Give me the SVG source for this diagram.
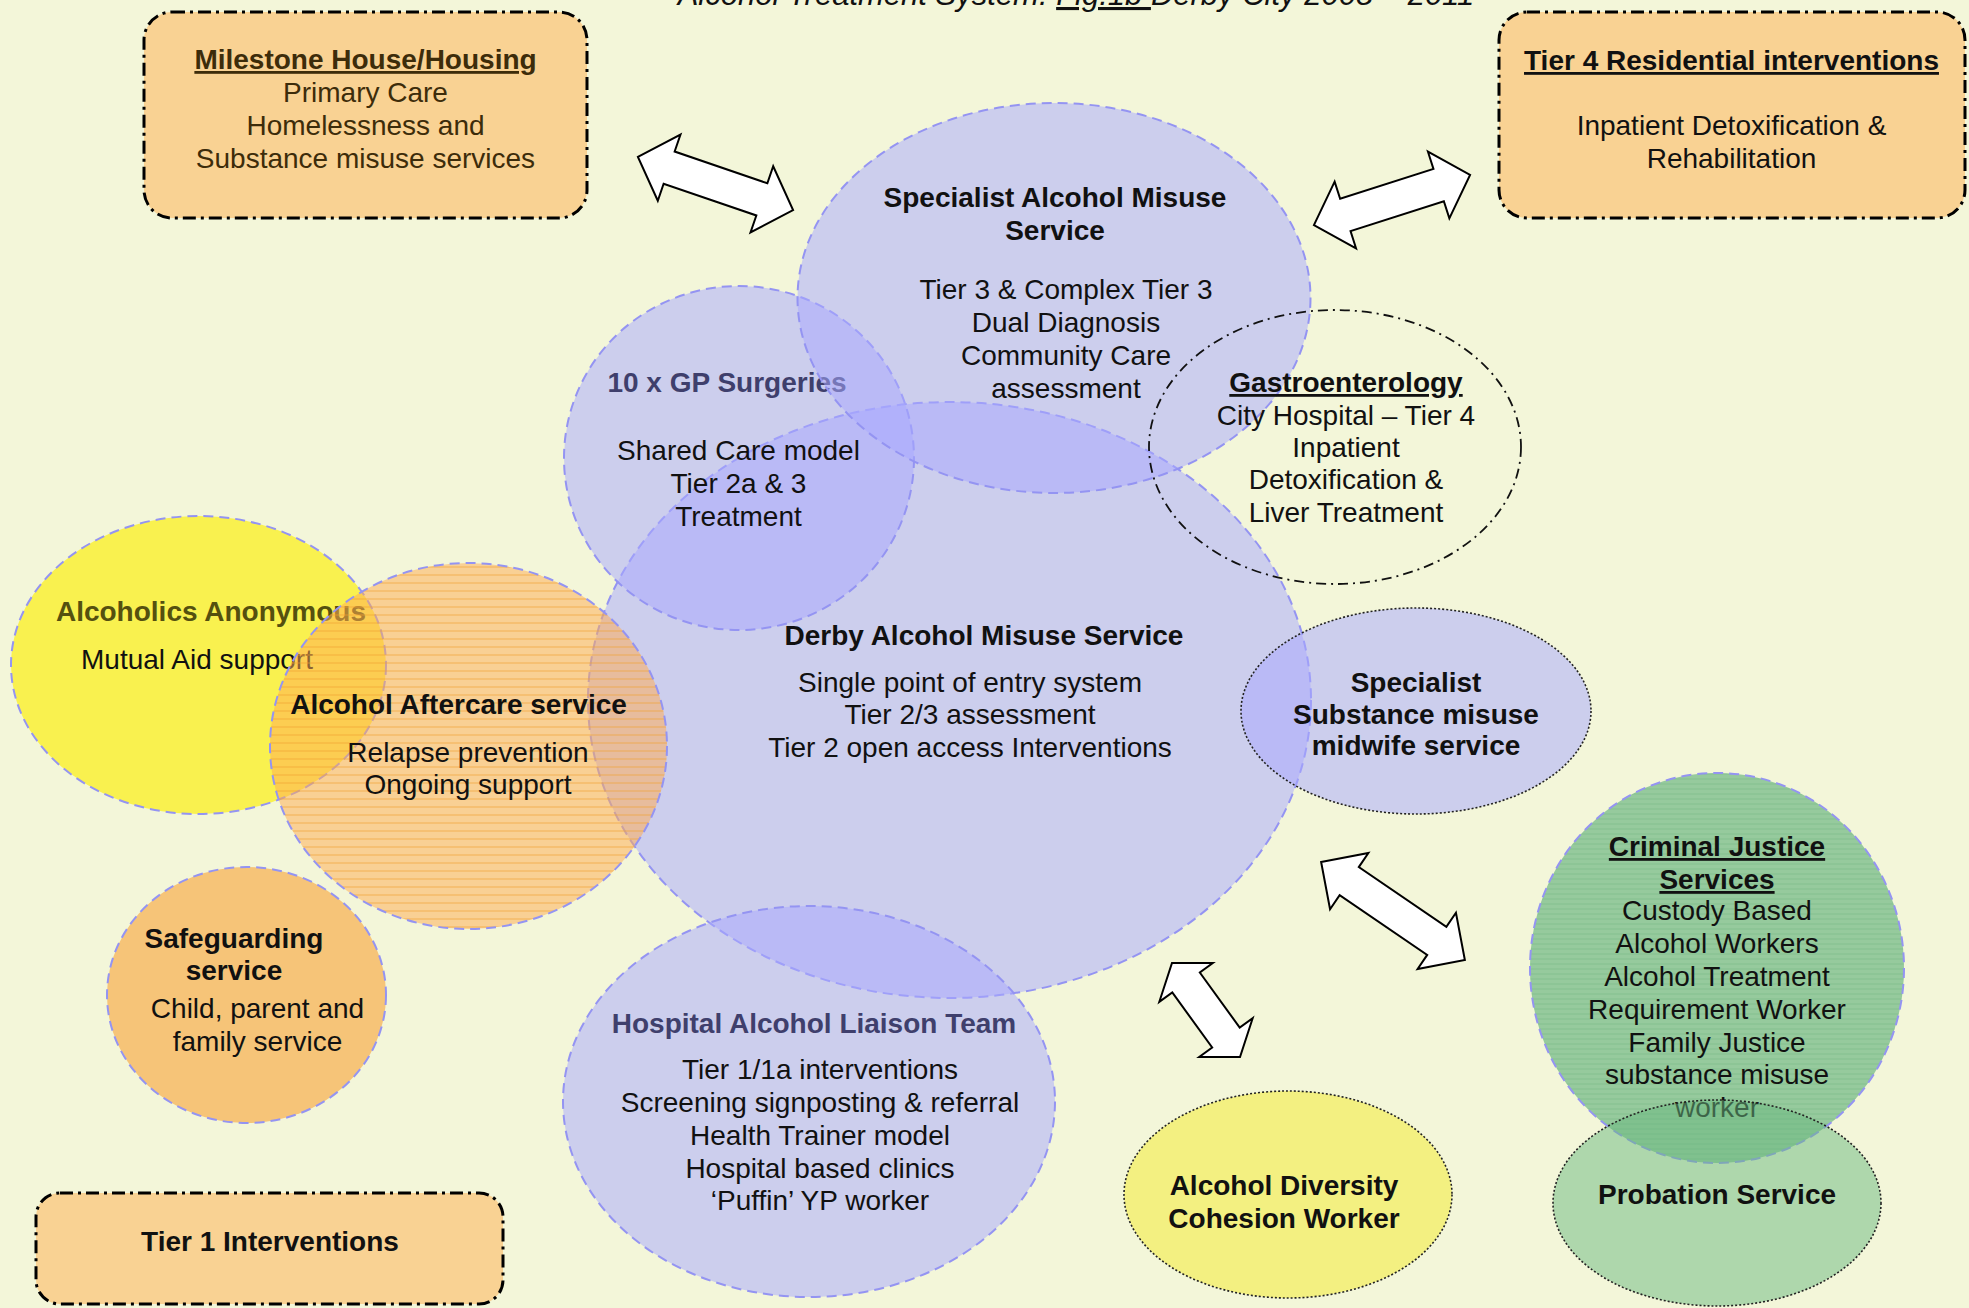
<svg xmlns="http://www.w3.org/2000/svg" width="1969" height="1308" viewBox="0 0 1969 1308">
  <defs>
    <style>
      .t { font-family: "Liberation Sans", Arial, sans-serif; font-size: 28px; text-anchor: middle; fill: #111; }
      .b { font-weight: bold; }
      .u { text-decoration: underline; }
      .brown { fill: #3d2c0a; }
      .slate { fill: #3f3f6c; }
      .olive { fill: #55500f; }
      .box { fill: #f9d293; stroke: #000; stroke-width: 3; stroke-dasharray: 13 5 3 5; }
      .lav { fill: #a8a8ff; fill-opacity: 0.52; stroke: #9494f2; stroke-width: 2; stroke-dasharray: 10 6; }
      .lavdot { fill: #a8a8ff; fill-opacity: 0.52; stroke: #222; stroke-width: 1.6; stroke-dasharray: 2 2; }
      .dashdot { fill: none; stroke: #111; stroke-width: 1.8; stroke-dasharray: 10 5 2 5; }
      .blue-dash { stroke: #9494f2; stroke-width: 2; stroke-dasharray: 10 6; }
      .dots { stroke: #222; stroke-width: 1.6; stroke-dasharray: 2 2; }
      .arrow { fill: #fff; stroke: #000; stroke-width: 2; stroke-linejoin: miter; }
    </style>
    <pattern id="hatch" width="8" height="8" patternUnits="userSpaceOnUse">
      <line x1="0" y1="7" x2="8" y2="7" stroke="#f0a030" stroke-width="1.2" stroke-opacity="0.55"/>
    </pattern>
    <pattern id="greenHatch" width="8" height="5" patternUnits="userSpaceOnUse">
      <line x1="0" y1="4" x2="8" y2="4" stroke="#4e9a66" stroke-width="1" stroke-opacity="0.25"/>
    </pattern>
    <path id="arrowLong" d="M -82,0 L -49,-35 L -49,-17 L 49,-17 L 49,-35 L 82,0 L 49,35 L 49,17 L -49,17 L -49,35 Z"/>
  </defs>

  <!-- page background -->
  <rect x="0" y="0" width="1969" height="1308" fill="#f3f6d9"/>

  <!-- heading, partly cut by the top edge -->
  <text class="t" x="1076" y="5" style="font-size:31px;font-style:italic">Alcohol Treatment System: <tspan class="u">Fig.1b </tspan>Derby City 2008 – 2011</text>

  <!-- rounded boxes -->
  <g id="milestone-house">
    <rect class="box" x="144" y="12" width="443" height="206" rx="28"/>
    <text class="t b u brown" x="365.5" y="69">Milestone House/Housing</text>
    <text class="t brown" x="365.5" y="102">Primary Care</text>
    <text class="t brown" x="365.5" y="135">Homelessness and</text>
    <text class="t brown" x="365.5" y="168">Substance misuse services</text>
  </g>

  <g id="tier4-residential">
    <rect class="box" x="1499" y="12" width="466" height="206" rx="28"/>
    <text class="t b u" x="1731.5" y="70">Tier 4 Residential interventions</text>
    <text class="t" x="1731.5" y="135">Inpatient Detoxification &amp;</text>
    <text class="t" x="1731.5" y="168">Rehabilitation</text>
  </g>

  <g id="tier1-interventions">
    <rect class="box" x="36" y="1193" width="467" height="111" rx="24"/>
    <text class="t b" x="270" y="1251">Tier 1 Interventions</text>
  </g>

  <!-- central service -->
  <g id="derby-alcohol-misuse-service">
    <ellipse class="lav" cx="949.5" cy="700" rx="361.5" ry="298"/>
    <text class="t b" x="984" y="645">Derby Alcohol Misuse Service</text>
    <text class="t" x="970" y="692">Single point of entry system</text>
    <text class="t" x="970" y="724">Tier 2/3 assessment</text>
    <text class="t" x="970" y="757">Tier 2 open access Interventions</text>
  </g>

  <g id="gp-surgeries">
    <ellipse class="lav" cx="739" cy="458" rx="175" ry="172"/>
    <text class="t b slate" x="727" y="392">10 x GP Surgeries</text>
    <text class="t" x="738.5" y="460">Shared Care model</text>
    <text class="t" x="738.5" y="493">Tier 2a &amp; 3</text>
    <text class="t" x="738.5" y="526">Treatment</text>
  </g>

  <g id="specialist-alcohol-misuse-service">
    <ellipse class="lav" cx="1054" cy="298" rx="256.5" ry="195"/>
    <text class="t b" x="1055" y="207">Specialist Alcohol Misuse</text>
    <text class="t b" x="1055" y="240">Service</text>
    <text class="t" x="1066" y="299">Tier 3 &amp; Complex Tier 3</text>
    <text class="t" x="1066" y="332">Dual Diagnosis</text>
    <text class="t" x="1066" y="365">Community Care</text>
    <text class="t" x="1066" y="398">assessment</text>
  </g>

  <g id="gastroenterology">
    <ellipse class="dashdot" cx="1335" cy="447" rx="186" ry="137"/>
    <text class="t b u" x="1346" y="392">Gastroenterology</text>
    <text class="t" x="1346" y="425">City Hospital – Tier 4</text>
    <text class="t" x="1346" y="457">Inpatient</text>
    <text class="t" x="1346" y="489">Detoxification &amp;</text>
    <text class="t" x="1346" y="522">Liver Treatment</text>
  </g>

  <g id="midwife-service">
    <ellipse class="lavdot" cx="1416" cy="711" rx="175" ry="103"/>
    <text class="t b" x="1416" y="692">Specialist</text>
    <text class="t b" x="1416" y="724">Substance misuse</text>
    <text class="t b" x="1416" y="755">midwife service</text>
  </g>

  <g id="hospital-alcohol-liaison-team">
    <ellipse class="lav" cx="809" cy="1101.5" rx="246" ry="195.5"/>
    <text class="t b slate" x="814" y="1033">Hospital Alcohol Liaison Team</text>
    <text class="t" x="820" y="1079">Tier 1/1a interventions</text>
    <text class="t" x="820" y="1112">Screening signposting &amp; referral</text>
    <text class="t" x="820" y="1145">Health Trainer model</text>
    <text class="t" x="820" y="1178">Hospital based clinics</text>
    <text class="t" x="820" y="1210">‘Puffin’ YP worker</text>
  </g>

  <!-- mutual aid and aftercare -->
  <g id="alcoholics-anonymous">
    <ellipse cx="198.5" cy="665" rx="187.5" ry="149" fill="#faf02c" fill-opacity="0.8" class="blue-dash"/>
    <text class="t b olive" x="211" y="621">Alcoholics Anonymous</text>
    <text class="t" x="197" y="669">Mutual Aid support</text>
  </g>

  <g id="alcohol-aftercare-service">
    <ellipse cx="468.5" cy="746" rx="198.5" ry="183" fill="#ffad55" fill-opacity="0.52"/>
    <ellipse cx="468.5" cy="746" rx="198.5" ry="183" fill="url(#hatch)" class="blue-dash"/>
    <text class="t b" x="458.5" y="714">Alcohol Aftercare service</text>
    <text class="t" x="468" y="762">Relapse prevention</text>
    <text class="t" x="468" y="794">Ongoing support</text>
  </g>

  <g id="safeguarding-service">
    <ellipse cx="246.5" cy="995" rx="139.5" ry="128" fill="#f6c478" class="blue-dash"/>
    <text class="t b" x="234" y="948">Safeguarding</text>
    <text class="t b" x="234" y="980">service</text>
    <text class="t" x="257.5" y="1018">Child, parent and</text>
    <text class="t" x="257.5" y="1051">family service</text>
  </g>

  <g id="alcohol-diversity-cohesion-worker">
    <ellipse cx="1288" cy="1194.5" rx="164" ry="103.5" fill="#f3f081" class="dots"/>
    <text class="t b" x="1284" y="1195">Alcohol Diversity</text>
    <text class="t b" x="1284" y="1228">Cohesion Worker</text>
  </g>

  <!-- criminal justice cluster -->
  <g id="criminal-justice-services">
    <ellipse cx="1717" cy="968" rx="187" ry="195" fill="#5fb07a" fill-opacity="0.63"/>
    <ellipse cx="1717" cy="968" rx="187" ry="195" fill="url(#greenHatch)" class="blue-dash"/>
    <text class="t b u" x="1717" y="856">Criminal Justice</text>
    <text class="t b u" x="1717" y="889">Services</text>
    <text class="t" x="1717" y="920">Custody Based</text>
    <text class="t" x="1717" y="953">Alcohol Workers</text>
    <text class="t" x="1717" y="986">Alcohol Treatment</text>
    <text class="t" x="1717" y="1019">Requirement Worker</text>
    <text class="t" x="1717" y="1052">Family Justice</text>
    <text class="t" x="1717" y="1084">substance misuse</text>
    <text class="t" x="1717" y="1117">worker</text>
  </g>

  <g id="probation-service">
    <ellipse cx="1717" cy="1203" rx="164" ry="103" fill="#6ab87f" fill-opacity="0.5" class="dots"/>
    <text class="t b" x="1717" y="1204">Probation Service</text>
  </g>

  <!-- two-way block arrows between services -->
  <g id="connectors">
    <use href="#arrowLong" class="arrow" transform="translate(715.5,183.5) rotate(18.9)"/>
    <use href="#arrowLong" class="arrow" transform="translate(1392,200) rotate(-17.8)"/>
    <path class="arrow" transform="translate(1393,911) rotate(34.3)" d="M -87,0 L -53,-34 L -53,-17 L 53,-17 L 53,-34 L 87,0 L 53,34 L 53,17 L -53,17 L -53,34 Z"/>
    <path class="arrow" transform="translate(1206,1010) rotate(54.1)" d="M -58,0 L -34,-33 L -34,-17 L 34,-17 L 34,-33 L 58,0 L 34,33 L 34,17 L -34,17 L -34,33 Z"/>
  </g>
</svg>
